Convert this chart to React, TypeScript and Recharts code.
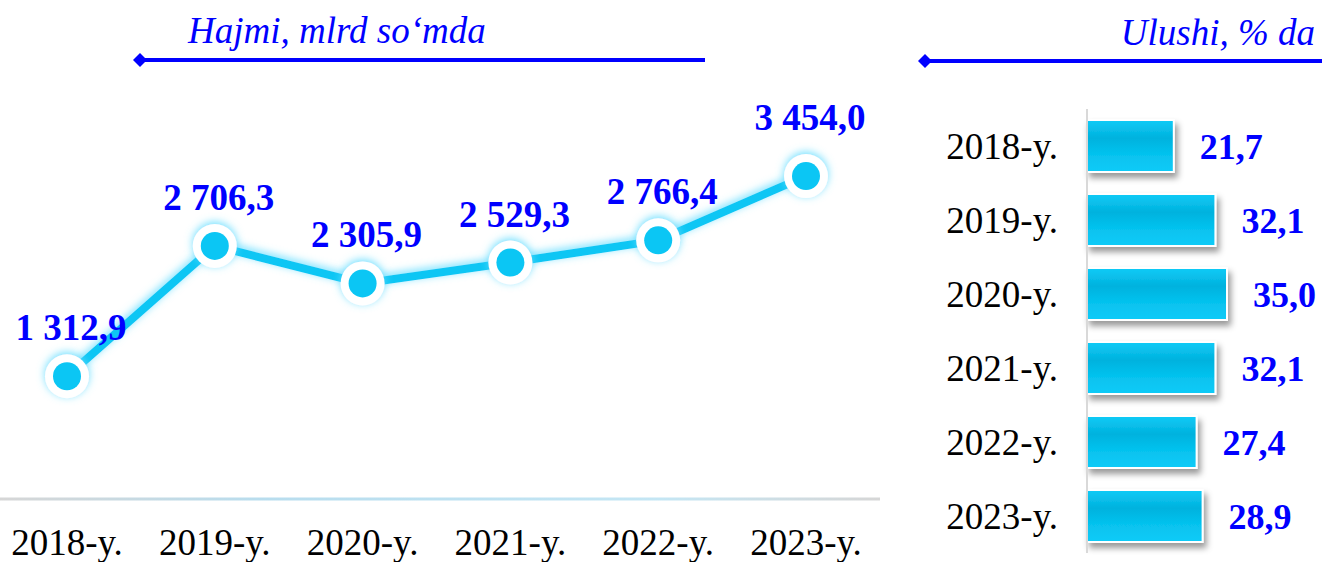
import React from 'react';
import { Bar, BarChart, LabelList, Line, LineChart, XAxis, YAxis } from 'recharts';

const years = ['2018-y.', '2019-y.', '2020-y.', '2021-y.', '2022-y.', '2023-y.'];
const volume = [1312.9, 2706.3, 2305.9, 2529.3, 2766.4, 3454.0];
const share = [21.7, 32.1, 35.0, 32.1, 27.4, 28.9];

const volumeTitle = 'Hajmi, mlrd so‘mda';
const shareTitle = 'Ulushi, % da';

const serif = '"Liberation Serif", "Times New Roman", serif';
const blue = '#0000FF';
const cyan = '#0BC6F4';

const lineData = years.map((year, i) => ({ year, value: volume[i] }));
const barData = years.map((year, i) => ({ year, value: share[i] }));

// 1 312,9 style
const fmt = (v: number) => {
  const [int, dec] = v.toFixed(1).split('.');
  return int.replace(/\B(?=(\d{3})+(?!\d))/g, ' ') + ',' + dec;
};

const renderDot = (props: any) => {
  const { cx, cy, index } = props;
  return (
    <g key={`dot-${index}`}>
      <circle cx={cx} cy={cy} r={22} fill="#fff" filter="url(#glow)" />
      <circle cx={cx} cy={cy} r={14} fill={cyan} />
    </g>
  );
};

const renderVolumeLabel = (props: any) => {
  const { x, y, value, index } = props;
  const lift = index === volume.length - 1 ? 46 : 36;
  return (
    <text
      key={`lbl-${index}`}
      x={x + 4}
      y={y - lift}
      textAnchor="middle"
      fill={blue}
      fontSize={37}
      fontWeight="bold"
      fontFamily={serif}
    >
      {fmt(value)}
    </text>
  );
};

const Header = () => (
  <svg width={1322} height={562} style={{ position: 'absolute', left: 0, top: 0, pointerEvents: 'none' }}>
    <text x={188} y={43} fill={blue} fontSize={37} fontStyle="italic" fontFamily={serif}>
      {volumeTitle}
    </text>
    <line x1={140} y1={60} x2={705} y2={60} stroke={blue} strokeWidth={4} />
    <polygon points="133,60 140,53 147,60 140,67" fill={blue} />
    <text x={1315} y={45} textAnchor="end" fill={blue} fontSize={37} fontStyle="italic" fontFamily={serif}>
      {shareTitle}
    </text>
    <line x1={925} y1={61} x2={1322} y2={61} stroke={blue} strokeWidth={4} />
    <polygon points="918,61 925,54 932,61 925,68" fill={blue} />
  </svg>
);

export default function App() {
  return (
    <div style={{ position: 'fixed', left: 0, top: 0, width: 1322, height: 562, background: '#fff' }}>
      <div style={{ position: 'absolute', left: 0, top: 0 }}>
        <LineChart width={880} height={562} data={lineData} margin={{ top: 125, right: 0, bottom: 0, left: 0 }}>
          <defs>
            <filter id="glow" x="-30%" y="-60%" width="160%" height="220%">
              <feFlood floodColor="#5FDCFF" floodOpacity={0.9} result="c" />
              <feComposite in="c" in2="SourceAlpha" operator="in" result="s" />
              <feGaussianBlur in="s" stdDeviation={4} result="b" />
              <feOffset in="b" dy={-2} result="o" />
              <feMerge>
                <feMergeNode in="o" />
                <feMergeNode in="SourceGraphic" />
              </feMerge>
            </filter>
            <linearGradient id="axisGrad" gradientUnits="userSpaceOnUse" x1={0} y1={0} x2={880} y2={0}>
              <stop offset="0%" stopColor="#D6D6D6" />
              <stop offset="30%" stopColor="#B8DDEE" />
              <stop offset="75%" stopColor="#C4E6F4" />
              <stop offset="100%" stopColor="#D6D6D6" />
            </linearGradient>
          </defs>
          <XAxis
            dataKey="year"
            height={63}
            padding={{ left: 67, right: 74 }}
            tickLine={false}
            tickSize={0}
            tickMargin={30}
            axisLine={{ stroke: 'url(#axisGrad)', strokeWidth: 3 }}
            tick={{ fill: '#000', fontSize: 37, fontFamily: serif }}
            interval={0}
          />
          <YAxis hide domain={[0, 4000]} />
          <Line
            dataKey="value"
            stroke={cyan}
            strokeWidth={8}
            filter="url(#glow)"
            dot={renderDot}
            activeDot={false}
            isAnimationActive={false}
          >
            <LabelList dataKey="value" content={renderVolumeLabel} />
          </Line>
        </LineChart>
      </div>
      <div style={{ position: 'absolute', left: 910, top: 0 }}>
        <BarChart
          width={412}
          height={562}
          data={barData}
          layout="vertical"
          margin={{ top: 109, right: 35, bottom: 9, left: 0 }}
        >
          <defs>
            <linearGradient id="barGrad" x1="0" y1="0" x2="0" y2="1">
              <stop offset="0%" stopColor="#0FCBF7" />
              <stop offset="35%" stopColor="#02B2DE" />
              <stop offset="65%" stopColor="#06C2EE" />
              <stop offset="100%" stopColor="#0CCBF8" />
            </linearGradient>
            <filter id="barShadow" x="-10%" y="-20%" width="130%" height="160%">
              <feDropShadow dx={3} dy={5} stdDeviation={3} floodColor="#000" floodOpacity={0.4} />
            </filter>
          </defs>
          <XAxis type="number" hide domain={[0, 50]} />
          <YAxis
            type="category"
            dataKey="year"
            width={177}
            tickLine={false}
            tickSize={0}
            tickMargin={29}
            axisLine={{ stroke: '#D9D9D9', strokeWidth: 2 }}
            tick={{ fill: '#000', fontSize: 37, fontFamily: serif }}
            interval={0}
          />
          <Bar
            dataKey="value"
            barSize={52}
            fill="url(#barGrad)"
            stroke="#fff"
            strokeWidth={2}
            filter="url(#barShadow)"
            isAnimationActive={false}
          >
            <LabelList
              dataKey="value"
              position="right"
              offset={26}
              formatter={(v: any) => fmt(Number(v))}
              fill={blue}
              fontSize={36}
              fontWeight="bold"
              fontFamily={serif}
            />
          </Bar>
        </BarChart>
      </div>
      <Header />
    </div>
  );
}
